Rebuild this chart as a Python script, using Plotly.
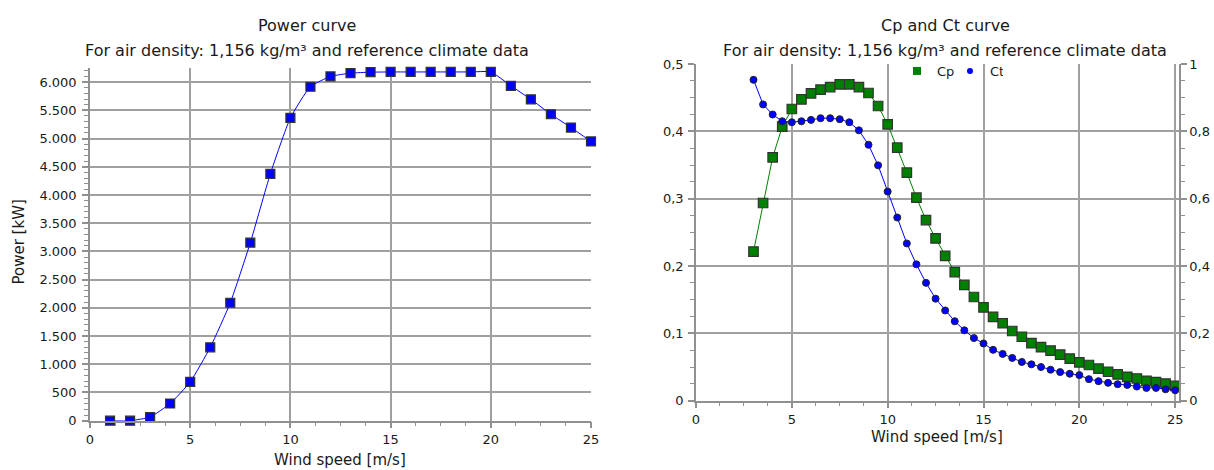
import plotly.graph_objects as go

# ---------------- data ----------------
power_ws = [1, 2, 3, 4, 5, 6, 7, 8, 9, 10, 11, 12, 13, 14, 15, 16, 17, 18, 19, 20, 21, 22, 23, 24, 25]
power_kw = [0, 0, 65, 305, 688, 1300, 2090, 3155, 4375, 5365, 5918, 6100, 6158, 6176, 6180, 6180, 6180, 6180, 6180, 6180, 5935, 5694, 5430, 5195, 4948]

cp_ws = [3.0, 3.5, 4.0, 4.5, 5.0, 5.5, 6.0, 6.5, 7.0, 7.5, 8.0, 8.5, 9.0, 9.5, 10.0, 10.5, 11.0, 11.5,
         12.0, 12.5, 13.0, 13.5, 14.0, 14.5, 15.0, 15.5, 16.0, 16.5, 17.0, 17.5, 18.0, 18.5, 19.0, 19.5,
         20.0, 20.5, 21.0, 21.5, 22.0, 22.5, 23.0, 23.5, 24.0, 24.5, 25.0]
cp_vals = [0.2215, 0.2936, 0.3614, 0.4069, 0.4332, 0.4475, 0.4564, 0.4619, 0.4658, 0.4698, 0.4698, 0.4658,
           0.4569, 0.4376, 0.4104, 0.3757, 0.3386, 0.3015, 0.2683, 0.2410, 0.2150, 0.1910, 0.1720, 0.1540,
           0.1385, 0.1245, 0.1150, 0.1035, 0.0950, 0.0855, 0.0795, 0.0745, 0.0685, 0.0625, 0.0570, 0.0530,
           0.0475, 0.0430, 0.0390, 0.0355, 0.0330, 0.0295, 0.0275, 0.0255, 0.0220]
ct_vals = [0.953, 0.880, 0.850, 0.830, 0.827, 0.830, 0.834, 0.839, 0.839, 0.836, 0.827, 0.803, 0.760,
           0.699, 0.621, 0.544, 0.467, 0.405, 0.350, 0.303, 0.268, 0.236, 0.209, 0.186, 0.170, 0.151,
           0.139, 0.127, 0.115, 0.108, 0.100, 0.092, 0.085, 0.080, 0.076, 0.064, 0.058, 0.053, 0.049,
           0.047, 0.042, 0.038, 0.038, 0.034, 0.031]

title_left = "Power curve"
title_right = "Cp and Ct curve"
subtitle = "For air density: 1,156 kg/m³ and reference climate data"
x_title = "Wind speed [m/s]"
y_title = "Power [kW]"

# ---------------- layout constants ----------------
W, H = 1214, 470
FONT = "DejaVu Sans, Verdana, sans-serif"
GRID = "#a0a0a0"
AXIS = "#909090"
TXT = "#1a1a1a"

def px_x(p):
    return p / W

def px_y(p):
    return 1 - p / H

fig = go.Figure()

# left: power curve
fig.add_trace(go.Scatter(
    x=power_ws, y=power_kw, mode="lines+markers", xaxis="x", yaxis="y",
    line=dict(color="#0000ff", width=1, shape="spline", smoothing=0.5),
    marker=dict(symbol="square", size=9, color="#0000ff", line=dict(color="#333333", width=1.2)),
    showlegend=False, cliponaxis=False,
))

# right: Cp (left axis) and Ct (right axis)
fig.add_trace(go.Scatter(
    x=cp_ws, y=cp_vals, mode="lines+markers", xaxis="x2", yaxis="y2",
    line=dict(color="#008000", width=1),
    marker=dict(symbol="square", size=9.5, color="#008000", line=dict(color="#333333", width=1.2)),
    showlegend=False, cliponaxis=False,
))
fig.add_trace(go.Scatter(
    x=cp_ws, y=ct_vals, mode="lines+markers", xaxis="x2", yaxis="y3",
    line=dict(color="#0000ff", width=1),
    marker=dict(symbol="circle", size=7, color="#0000ff", line=dict(color="#222222", width=1)),
    showlegend=False, cliponaxis=False,
))
# legend entries (marker only, as in the reference)
fig.add_trace(go.Scatter(x=[None], y=[None], mode="markers", name="Cp", xaxis="x2", yaxis="y2",
                         marker=dict(symbol="square", size=8, color="#008000")))
fig.add_trace(go.Scatter(x=[None], y=[None], mode="markers", name="Ct", xaxis="x2", yaxis="y3",
                         marker=dict(symbol="circle", size=6, color="#0000ff")))

tickfont = dict(family=FONT, size=13, color=TXT)

common_x = dict(
    showline=True, linecolor=AXIS, linewidth=1.5, ticks="outside", ticklen=6, tickcolor=AXIS,
    tickwidth=1.5, showgrid=True, gridcolor=GRID, gridwidth=1.5, zeroline=False, dtick=5, tick0=0,
    tickfont=tickfont, automargin=False,
    minor=dict(ticks="outside", dtick=1.25, ticklen=4, tickcolor=AXIS, tickwidth=1, showgrid=False),
)

fig.update_layout(
    width=W, height=H,
    margin=dict(l=0, r=0, t=0, b=0, pad=0, autoexpand=False),
    paper_bgcolor="white", plot_bgcolor="white",
    separators=",.",
    font=dict(family=FONT, size=13, color=TXT),
    xaxis=dict(domain=[px_x(90), px_x(591)], range=[0, 25], anchor="y", **common_x),
    yaxis=dict(
        domain=[px_y(420.7), px_y(68)], range=[0, 6250], anchor="x", automargin=False,
        showline=True, linecolor=AXIS, linewidth=1.5, ticks="outside", ticklen=6, tickcolor=AXIS,
        tickwidth=1.5, showgrid=True, gridcolor=GRID, gridwidth=1.5, zeroline=False,
        dtick=500, tick0=0, tickformat=",", tickfont=tickfont, ticklabelstandoff=3,
        minor=dict(ticks="outside", dtick=100, ticklen=4, tickcolor=AXIS, tickwidth=1, showgrid=False),
    ),
    xaxis2=dict(domain=[px_x(696), px_x(1179)], range=[0, 25.2], anchor="y2", **common_x),
    yaxis2=dict(
        domain=[px_y(400.7), px_y(64)], range=[0, 0.5], anchor="x2", automargin=False,
        showline=True, linecolor=AXIS, linewidth=1.5, ticks="outside", ticklen=6, tickcolor=AXIS,
        tickwidth=1.5, showgrid=True, gridcolor=GRID, gridwidth=1.5, zeroline=False,
        dtick=0.1, tick0=0, tickfont=tickfont, ticklabelstandoff=2,
        minor=dict(ticks="outside", dtick=0.025, ticklen=4, tickcolor=AXIS, tickwidth=1, showgrid=False),
    ),
    yaxis3=dict(
        overlaying="y2", side="right", anchor="x2", range=[0, 1], automargin=False,
        showline=True, linecolor=AXIS, linewidth=1.5, ticks="outside", ticklen=6, tickcolor=AXIS,
        tickwidth=1.5, showgrid=False, zeroline=False, dtick=0.2, tick0=0, tickfont=tickfont,
        minor=dict(ticks="outside", dtick=0.05, ticklen=4, tickcolor=AXIS, tickwidth=1, showgrid=False),
    ),
    legend=dict(
        orientation="h", x=px_x(897), y=px_y(71), xanchor="left", yanchor="middle",
        bgcolor="rgba(0,0,0,0)", font=dict(family=FONT, size=13, color=TXT),
        itemwidth=30, tracegroupgap=0, entrywidth=8, entrywidthmode="pixels",
    ),
)

annots = [
    dict(text=title_left, x=px_x(307), y=px_y(26), size=16),
    dict(text=subtitle, x=px_x(307), y=px_y(50), size=16),
    dict(text=title_right, x=px_x(945), y=px_y(26), size=16),
    dict(text=subtitle, x=px_x(945), y=px_y(50), size=16),
    dict(text=x_title, x=px_x(340), y=px_y(460), size=15),
    dict(text=x_title, x=px_x(937), y=px_y(437), size=15),
]
for a in annots:
    fig.add_annotation(text=a["text"], x=a["x"], y=a["y"], xref="paper", yref="paper",
                       xanchor="center", yanchor="middle", showarrow=False,
                       font=dict(family=FONT, size=a["size"], color=TXT))
fig.add_annotation(text=y_title, x=px_x(18.5), y=px_y(242), xref="paper", yref="paper",
                   xanchor="center", yanchor="middle", showarrow=False, textangle=-90,
                   font=dict(family=FONT, size=15, color=TXT))

pin_page = (
    "document.documentElement.style.margin='0';"
    "document.body.style.margin='0';"
    "document.documentElement.style.overflow='hidden';"
    "document.body.style.overflow='hidden';"
    "var d=document.querySelector('.plotly-graph-div');"
    "d.style.position='fixed';d.style.left='0px';d.style.top='0px';"
)

fig.write_html("out.html", config={"displayModeBar": False}, post_script=pin_page)
